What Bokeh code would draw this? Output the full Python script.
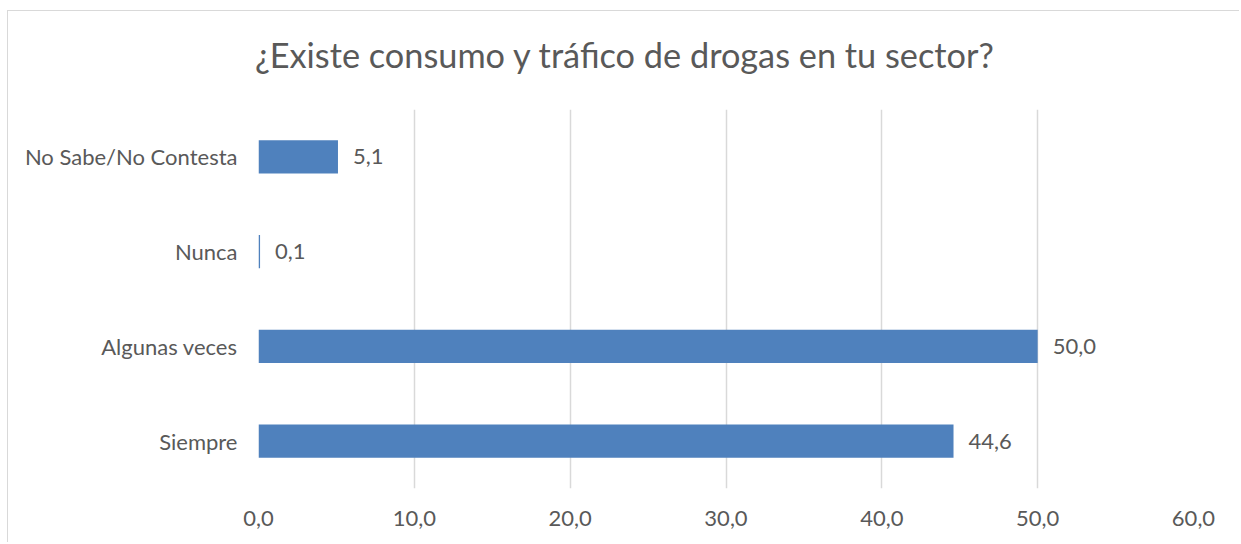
from bokeh.plotting import figure
from bokeh.models import Range1d, FactorRange, FixedTicker, ColumnDataSource
from bokeh.core.properties import value
from bokeh.embed import file_html
from bokeh.resources import INLINE

# ---- data ----
categories = ["Siempre", "Algunas veces", "Nunca", "No Sabe/No Contesta"]
values = [44.6, 50.0, 0.1, 5.1]
x_ticks = [0, 10, 20, 30, 40, 50, 60]
title_text = "¿Existe consumo y tráfico de drogas en tu sector?"

labels = [f"{v:.1f}".replace(".", ",") for v in values]
tick_labels = {t: f"{t:.1f}".replace(".", ",") for t in x_ticks}

FONT = "Lato"
TXT = "#595959"
GRID = "#d9d9d9"
BAR = "#4F81BD"

src = ColumnDataSource(dict(cat=categories, val=values, lab=labels))

p = figure(
    width=1232, height=532,
    y_range=FactorRange(*categories),
    x_range=Range1d(x_ticks[0], x_ticks[-1]),
    output_backend="svg", toolbar_location=None,
    min_border_left=250, min_border_right=47,
    min_border_top=98, min_border_bottom=55,
)
p.styles = {"margin-left": "7px", "margin-top": "10px",
            "border-top": "1px solid #d9d9d9", "border-left": "1px solid #d9d9d9"}

p.hbar(y="cat", right="val", left=0, height=0.35, source=src,
       fill_color=BAR, line_color=None)
p.text(x="val", y="cat", text="lab", source=src, x_offset=15,
       text_baseline="middle", text_align="left",
       text_font=value(FONT), text_font_size="22px", text_color=TXT)

p.title.text = title_text
p.title.align = "left"
p.title.offset = -3.5
p.title.standoff = 0
p.title.padding = dict(top=0, right=0, bottom=35, left=0)
p.title.text_font = FONT
p.title.text_font_size = "34.3px"
p.title.text_font_style = "normal"
p.title.text_color = TXT

p.outline_line_color = None
p.background_fill_color = "white"

# x axis
p.xaxis.ticker = FixedTicker(ticks=x_ticks)
p.xaxis.major_label_overrides = tick_labels
p.xaxis.axis_line_color = None
p.xaxis.major_tick_line_color = None
p.xaxis.minor_tick_line_color = None
p.xaxis.major_label_standoff = 16
p.xaxis.major_label_text_font = FONT
p.xaxis.major_label_text_font_size = "22px"
p.xaxis.major_label_text_color = TXT

# y axis
p.yaxis.axis_line_color = None
p.yaxis.major_tick_line_color = None
p.yaxis.major_label_standoff = 15
p.yaxis.major_label_text_font = FONT
p.yaxis.major_label_text_font_size = "22px"
p.yaxis.major_label_text_color = TXT

p.xgrid.grid_line_color = GRID
p.xgrid.grid_line_width = 1.5
p.ygrid.grid_line_color = None

open("out.html", "w").write(file_html(p, INLINE))
